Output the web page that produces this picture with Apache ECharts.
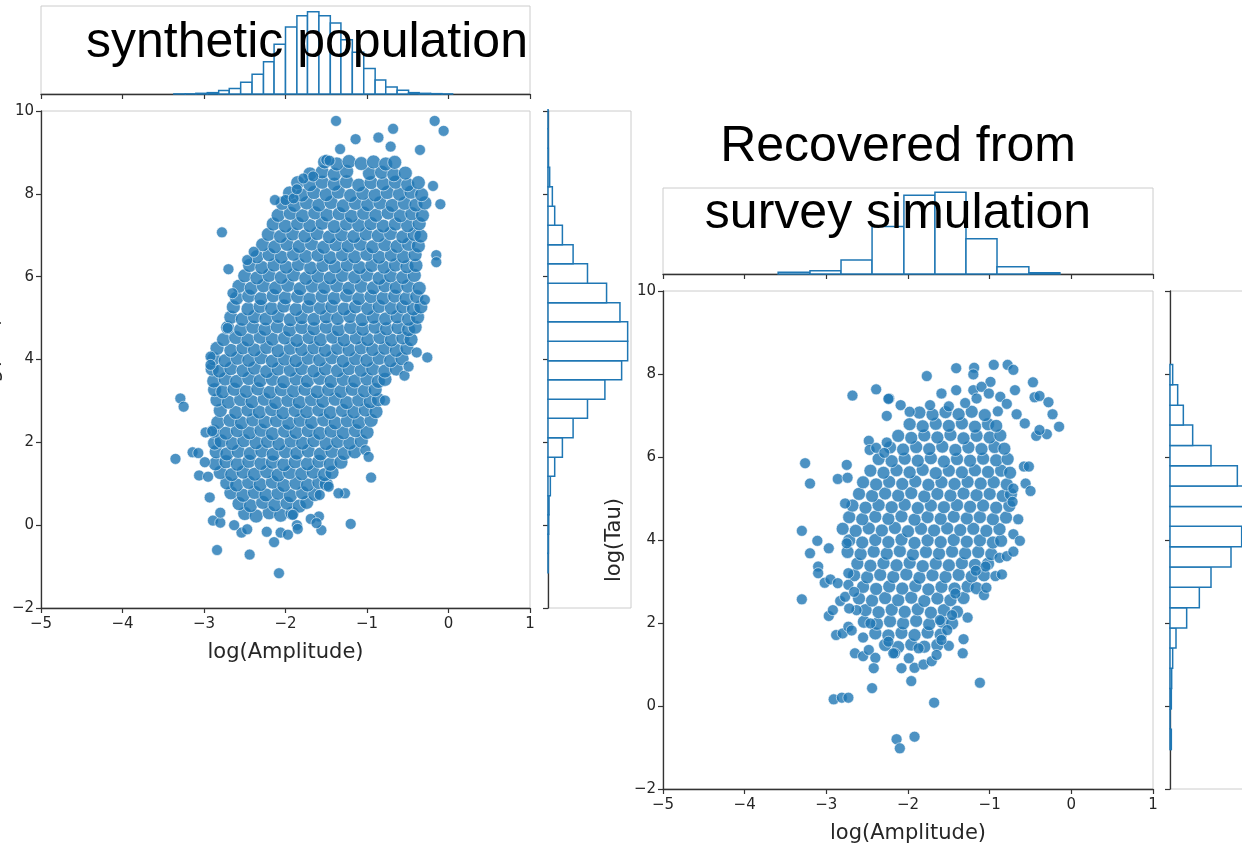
<!DOCTYPE html>
<html>
<head>
<meta charset="utf-8">
<script src="https://cdn.jsdelivr.net/npm/echarts@6/dist/echarts.min.js"></script>
<style>
html, body { margin: 0; padding: 0; background: #fff; }
#main { width: 1242px; height: 843px; }
</style>
</head>
<body>
<div id="main"></div>
<script>
// synthetic population: scattered points round the edge of the cloud
const popFringe = [
  [-2.78,7.07],[-2.70,6.18],[-2.47,6.40],[-2.39,6.60],[-2.65,5.60],[-2.13,7.85],[-2.00,7.85],[-1.90,7.89],[-1.86,8.11],
  [-2.92,4.07],[-2.92,3.87],[-2.71,4.76],[-1.78,8.37],[-1.66,8.42],
  [-1.38,9.76],[-0.68,9.57],[-0.17,9.76],[-0.06,9.52],[-1.14,9.32],[-0.86,9.36],[-1.33,9.08],[-0.71,9.14],[-0.35,9.06],
  [-1.50,8.82],[-1.46,8.80],[-0.19,8.19],[-0.10,7.75],[-0.15,6.52],[-0.15,6.35],[-0.39,4.17],[-0.26,4.05],[-0.29,5.44],
  [-3.29,3.06],[-3.25,2.86],[-3.35,1.60],[-3.14,1.76],[-3.07,1.74],[-2.98,2.24],[-2.90,2.27],[-2.99,1.52],[-3.06,1.20],
  [-2.95,1.17],[-2.93,0.67],[-2.89,0.11],[-2.80,0.06],[-2.84,-0.60],[-2.44,-0.71],[-2.08,-1.16],[-2.14,-0.41],[-2.54,-0.18],
  [-2.63,0.00],[-2.47,-0.10],[-2.23,-0.16],[-2.06,-0.18],[-1.97,-0.23],[-1.86,0.00],[-2.80,0.30],
  [-0.54,3.61],[-0.49,3.83],[-0.78,3.01],[-0.95,1.15],[-1.02,1.81],[-0.98,1.65],[-1.20,0.03],[-1.27,0.77],[-1.35,0.77],
  [-1.47,0.93],[-1.58,0.73],[-1.56,-0.12],[-1.59,0.21],[-1.69,0.15],[-1.62,0.05],[-1.91,0.25],[-1.85,-0.09]
];
// synthetic population: the dense body of the cloud, read row by row
const popCore = [
  [-2.5,0.28],[-2.36,0.22],[-2.2,0.3],[-2.06,0.24],[-1.92,0.29],
  [-2.57,0.52],[-2.43,0.47],[-2.28,0.55],[-2.13,0.49],[-1.98,0.53],[-1.83,0.46],[-1.74,0.55],
  [-2.67,0.78],[-2.52,0.72],[-2.38,0.79],[-2.24,0.73],[-2.09,0.77],[-1.94,0.71],[-1.79,0.78],[-1.64,0.74],
  [-2.72,1.02],[-2.6,0.97],[-2.45,1.03],[-2.31,0.98],[-2.16,1.04],[-2.02,0.96],[-1.87,1.01],[-1.73,0.97],[-1.59,1.03],[-1.5,0.99],
  [-2.8,1.27],[-2.66,1.22],[-2.52,1.28],[-2.38,1.23],[-2.23,1.29],[-2.09,1.21],[-1.95,1.27],[-1.8,1.24],[-1.66,1.28],[-1.52,1.22],[-1.43,1.27],
  [-2.86,1.48],[-2.73,1.53],[-2.59,1.47],[-2.45,1.54],[-2.3,1.49],[-2.16,1.52],[-2.02,1.46],[-1.88,1.53],[-1.73,1.48],[-1.59,1.54],[-1.45,1.47],[-1.32,1.52],
  [-2.85,1.77],[-2.72,1.72],[-2.58,1.78],[-2.43,1.73],[-2.29,1.79],[-2.15,1.71],[-2.0,1.77],[-1.86,1.74],[-1.72,1.79],[-1.57,1.72],[-1.43,1.78],[-1.28,1.73],[-1.15,1.77],
  [-2.87,1.98],[-2.79,2.03],[-2.65,1.97],[-2.51,2.04],[-2.36,1.99],[-2.22,2.02],[-2.08,1.96],[-1.93,2.03],[-1.79,1.98],[-1.65,2.04],[-1.5,1.97],[-1.36,2.02],[-1.21,1.98],[-1.07,2.03],
  [-2.88,2.27],[-2.73,2.22],[-2.59,2.28],[-2.44,2.23],[-2.3,2.29],[-2.16,2.21],[-2.01,2.27],[-1.87,2.24],[-1.72,2.28],[-1.58,2.22],[-1.44,2.27],[-1.29,2.23],[-1.14,2.28],[-1.0,2.24],
  [-2.83,2.48],[-2.68,2.53],[-2.54,2.47],[-2.4,2.54],[-2.25,2.49],[-2.11,2.52],[-1.96,2.46],[-1.82,2.53],[-1.68,2.48],[-1.53,2.54],[-1.39,2.47],[-1.24,2.52],[-1.1,2.48],[-0.95,2.53],
  [-2.8,2.77],[-2.61,2.72],[-2.46,2.78],[-2.32,2.73],[-2.17,2.79],[-2.03,2.71],[-1.88,2.77],[-1.74,2.74],[-1.59,2.78],[-1.45,2.72],[-1.3,2.77],[-1.16,2.73],[-1.02,2.78],[-0.89,2.74],
  [-2.84,3.02],[-2.7,2.97],[-2.55,3.03],[-2.41,2.98],[-2.26,3.04],[-2.12,2.96],[-1.97,3.01],[-1.83,2.97],[-1.68,3.03],[-1.54,2.99],[-1.39,3.04],[-1.25,2.96],[-1.1,3.02],[-0.96,2.98],[-0.86,3.03],
  [-2.87,3.27],[-2.77,3.22],[-2.63,3.28],[-2.48,3.23],[-2.34,3.29],[-2.19,3.21],[-2.05,3.27],[-1.9,3.24],[-1.76,3.28],[-1.61,3.22],[-1.47,3.27],[-1.32,3.23],[-1.18,3.28],[-1.03,3.24],[-0.9,3.27],
  [-2.88,3.48],[-2.74,3.53],[-2.6,3.47],[-2.45,3.54],[-2.31,3.49],[-2.16,3.52],[-2.02,3.46],[-1.87,3.53],[-1.73,3.48],[-1.58,3.54],[-1.44,3.47],[-1.29,3.52],[-1.15,3.48],[-1.0,3.53],[-0.86,3.47],[-0.78,3.52],
  [-2.9,3.77],[-2.81,3.72],[-2.67,3.78],[-2.52,3.73],[-2.38,3.79],[-2.23,3.71],[-2.09,3.77],[-1.94,3.74],[-1.8,3.78],[-1.65,3.72],[-1.51,3.77],[-1.36,3.73],[-1.22,3.78],[-1.07,3.74],[-0.93,3.77],[-0.78,3.72],[-0.64,3.77],
  [-2.88,4.02],[-2.74,3.97],[-2.59,4.03],[-2.45,3.98],[-2.3,4.04],[-2.16,3.96],[-2.01,4.01],[-1.87,3.97],[-1.72,4.03],[-1.58,3.99],[-1.43,4.04],[-1.29,3.96],[-1.14,4.02],[-1.0,3.98],[-0.85,4.03],[-0.71,3.97],[-0.57,4.02],
  [-2.84,4.27],[-2.67,4.22],[-2.52,4.28],[-2.38,4.23],[-2.23,4.29],[-2.09,4.21],[-1.94,4.27],[-1.8,4.24],[-1.65,4.28],[-1.51,4.22],[-1.36,4.27],[-1.22,4.23],[-1.07,4.28],[-0.93,4.24],[-0.78,4.27],[-0.64,4.22],[-0.51,4.27],
  [-2.76,4.48],[-2.61,4.53],[-2.46,4.47],[-2.31,4.54],[-2.16,4.49],[-2.01,4.52],[-1.86,4.46],[-1.71,4.53],[-1.57,4.48],[-1.42,4.54],[-1.28,4.47],[-1.13,4.52],[-0.99,4.48],[-0.84,4.53],[-0.7,4.47],[-0.56,4.52],[-0.46,4.48],
  [-2.71,4.77],[-2.55,4.72],[-2.4,4.78],[-2.25,4.73],[-2.1,4.79],[-1.95,4.71],[-1.8,4.77],[-1.65,4.74],[-1.5,4.78],[-1.35,4.72],[-1.2,4.77],[-1.05,4.73],[-0.9,4.78],[-0.76,4.74],[-0.62,4.77],[-0.49,4.72],[-0.41,4.78],
  [-2.67,5.02],[-2.53,4.97],[-2.38,5.03],[-2.24,4.98],[-2.09,5.04],[-1.94,4.96],[-1.8,5.01],[-1.65,4.97],[-1.5,5.03],[-1.36,4.99],[-1.21,5.04],[-1.06,4.96],[-0.92,5.02],[-0.77,4.98],[-0.63,5.03],[-0.49,4.97],[-0.38,5.02],
  [-2.64,5.27],[-2.46,5.22],[-2.31,5.28],[-2.17,5.23],[-2.02,5.29],[-1.87,5.21],[-1.72,5.27],[-1.57,5.24],[-1.43,5.28],[-1.28,5.22],[-1.14,5.27],[-0.99,5.23],[-0.85,5.28],[-0.7,5.24],[-0.56,5.27],[-0.43,5.22],[-0.34,5.27],
  [-2.6,5.48],[-2.45,5.53],[-2.3,5.47],[-2.15,5.54],[-2.0,5.49],[-1.85,5.52],[-1.7,5.46],[-1.55,5.53],[-1.4,5.48],[-1.25,5.54],[-1.1,5.47],[-0.95,5.52],[-0.8,5.48],[-0.66,5.53],[-0.52,5.47],[-0.39,5.52],
  [-2.57,5.77],[-2.42,5.72],[-2.27,5.78],[-2.12,5.73],[-1.97,5.79],[-1.82,5.71],[-1.67,5.77],[-1.52,5.74],[-1.37,5.78],[-1.22,5.72],[-1.07,5.77],[-0.92,5.73],[-0.78,5.78],[-0.64,5.74],[-0.5,5.77],[-0.36,5.72],
  [-2.5,6.02],[-2.35,5.97],[-2.2,6.03],[-2.05,5.98],[-1.9,6.04],[-1.75,5.96],[-1.6,6.01],[-1.45,5.97],[-1.3,6.03],[-1.15,5.99],[-1.0,6.04],[-0.85,5.96],[-0.71,6.02],[-0.56,5.98],[-0.42,6.03],
  [-2.44,6.27],[-2.29,6.22],[-2.14,6.28],[-1.99,6.23],[-1.84,6.29],[-1.69,6.21],[-1.54,6.27],[-1.39,6.24],[-1.24,6.28],[-1.09,6.22],[-0.94,6.27],[-0.79,6.23],[-0.65,6.28],[-0.51,6.24],[-0.4,6.27],
  [-2.35,6.48],[-2.2,6.53],[-2.05,6.47],[-1.9,6.54],[-1.75,6.49],[-1.6,6.52],[-1.45,6.46],[-1.3,6.53],[-1.15,6.48],[-1.0,6.54],[-0.85,6.47],[-0.7,6.52],[-0.55,6.48],[-0.41,6.53],
  [-2.28,6.77],[-2.13,6.72],[-1.98,6.78],[-1.83,6.73],[-1.68,6.79],[-1.53,6.71],[-1.38,6.77],[-1.23,6.74],[-1.08,6.78],[-0.93,6.72],[-0.78,6.77],[-0.63,6.73],[-0.49,6.78],[-0.37,6.74],
  [-2.21,7.02],[-2.06,6.97],[-1.91,7.03],[-1.76,6.98],[-1.61,7.04],[-1.46,6.96],[-1.31,7.01],[-1.16,6.97],[-1.01,7.03],[-0.86,6.99],[-0.71,7.04],[-0.56,6.96],[-0.42,7.02],[-0.34,6.98],
  [-2.15,7.27],[-2.0,7.22],[-1.85,7.28],[-1.7,7.23],[-1.55,7.29],[-1.4,7.21],[-1.25,7.27],[-1.1,7.24],[-0.95,7.28],[-0.8,7.22],[-0.65,7.27],[-0.5,7.23],[-0.36,7.28],
  [-2.09,7.48],[-1.94,7.53],[-1.79,7.47],[-1.64,7.54],[-1.49,7.49],[-1.34,7.52],[-1.19,7.46],[-1.04,7.53],[-0.89,7.48],[-0.74,7.54],[-0.59,7.47],[-0.45,7.52],[-0.32,7.48],
  [-2.04,7.77],[-1.89,7.72],[-1.74,7.78],[-1.59,7.73],[-1.44,7.79],[-1.29,7.71],[-1.14,7.77],[-0.99,7.74],[-0.84,7.78],[-0.69,7.72],[-0.54,7.77],[-0.4,7.73],[-0.29,7.78],
  [-1.95,8.02],[-1.8,7.97],[-1.65,8.03],[-1.5,7.98],[-1.35,8.04],[-1.2,7.96],[-1.05,8.01],[-0.9,7.97],[-0.75,8.03],[-0.6,7.99],[-0.46,8.04],[-0.33,7.98],
  [-1.85,8.27],[-1.7,8.22],[-1.55,8.28],[-1.4,8.23],[-1.25,8.29],[-1.1,8.21],[-0.95,8.27],[-0.8,8.24],[-0.65,8.28],[-0.5,8.22],[-0.37,8.27],
  [-1.7,8.48],[-1.55,8.53],[-1.4,8.47],[-1.25,8.54],[-0.97,8.49],[-0.82,8.52],[-0.67,8.46],[-0.53,8.5],
  [-1.52,8.77],[-1.37,8.72],[-1.22,8.78],[-1.07,8.73],[-0.92,8.77],[-0.77,8.72],[-0.66,8.76]
];
// synthetic population: marginal histograms (bin edges and heights)
const popAmpEdges = [-3.37,-3.23,-3.10,-2.96,-2.82,-2.69,-2.55,-2.41,-2.27,-2.14,-2.00,-1.86,-1.73,-1.59,-1.45,-1.32,-1.18,-1.04,-0.90,-0.77,-0.63,-0.49,-0.36,-0.22,-0.08,0.05];
const popAmpCounts = [0.3,0.5,2,4,10,16,35,58,95,147,198,231,243,231,210,160,123,75,41,21,11,4,2,1,0.3];
const popTauEdges = [-1.15,-0.68,-0.22,0.25,0.71,1.18,1.64,2.11,2.58,3.04,3.51,3.97,4.44,4.91,5.37,5.84,6.31,6.77,7.24,7.70,8.17,8.64,9.10,9.57,10.03];
const popTauCounts = [0.5,1,2,3,7,20,43,75,118,170,220,238,238,215,175,118,75,43,20,13,5,1,0.5,0.3];

// recovered from survey simulation: sparse points
const recFringe = [
  [-2.68,7.48],[-2.39,7.63],[-2.23,7.41],[-2.26,6.99],[-3.26,5.85],[-3.20,5.36],[-2.75,5.81],[-2.86,5.47],[-2.74,5.50],
  [-2.48,6.39],[-2.47,6.17],[-2.39,6.22],[-2.29,6.10],[-2.26,6.35],[-3.30,4.22],[-3.11,3.98],[-2.97,3.80],[-3.20,3.68],
  [-2.75,3.92],[-2.77,4.88],
  [-1.77,7.95],[-1.41,8.14],[-1.19,8.15],[-1.20,7.99],[-0.95,8.22],[-0.78,8.22],[-0.71,8.10],[-0.47,7.80],[-0.69,7.61],
  [-0.45,7.44],[-0.39,7.47],[-0.28,7.32],[-0.23,7.03],[-0.15,6.73],[-0.30,6.55],[-0.43,6.51],[-0.39,6.65],[-0.57,6.81],
  [-0.67,7.03],[-2.24,7.40],[-2.09,7.25],[-1.41,7.61],[-1.59,7.53],[-1.73,7.25],[-1.98,7.09],[-1.20,7.61],[-0.99,7.81],
  [-1.10,7.69],[-1.01,7.53],[-0.87,7.45],[-0.79,7.28],[-1.16,7.41],[-0.58,5.77],[-0.52,5.77],[-0.56,5.36],[-0.50,5.18],
  [-0.65,4.50],[-0.71,5.24],[-0.72,4.92],[-0.71,4.14],[-0.63,3.98],[-1.50,7.22],[-1.30,7.30],[-0.90,7.10],
  [-3.30,2.57],[-3.10,3.36],[-3.10,3.20],[-3.02,2.97],[-2.95,3.05],[-2.86,2.96],[-2.97,2.17],[-2.92,2.31],[-2.88,1.71],
  [-2.80,1.75],[-2.73,1.91],[-2.69,1.82],[-2.65,1.27],[-2.55,1.20],[-2.48,1.35],[-2.40,1.16],[-2.42,0.91],[-2.44,0.43],
  [-2.91,0.16],[-2.81,0.20],[-2.73,0.20],[-2.55,1.65],[-2.63,2.31],[-2.72,2.35],[-2.83,2.53],[-2.77,2.63],[-2.73,2.92],
  [-2.66,2.75],[-2.73,3.20],[-2.14,-0.80],[-2.10,-1.02],[-2.46,1.99],[-2.24,1.55],[-2.16,1.27],
  [-1.92,-0.74],[-1.68,0.08],[-1.12,0.56],[-1.96,0.60],[-2.08,0.91],[-1.92,0.92],[-1.81,1.00],[-1.71,1.08],[-1.65,1.23],
  [-1.50,1.45],[-1.33,1.27],[-1.32,1.61],[-1.59,1.59],[-2.18,1.27],[-1.99,1.15],[-1.87,1.39],[-1.27,2.13],[-1.07,2.67],
  [-1.04,2.85],[-0.93,3.13],[-0.85,3.17],[-0.88,3.57],[-0.79,3.61],[-0.71,3.72],[-1.05,3.36],[-1.17,3.26],[-1.42,2.71],
  [-1.46,2.19],[-1.61,2.07],[-1.52,1.83]
];
// recovered: the dense body
const recCore = [
  [-2.28,1.47],[-2.12,1.42],[-1.96,1.48],[-1.8,1.43],[-1.64,1.47],
  [-2.4,1.75],[-2.24,1.7],[-2.08,1.76],[-1.92,1.71],[-1.76,1.77],[-1.6,1.72],
  [-2.54,2.03],[-2.38,1.98],[-2.22,2.04],[-2.06,1.99],[-1.9,2.05],[-1.74,1.97],[-1.58,2.03],[-1.46,1.99],
  [-2.52,2.31],[-2.36,2.26],[-2.2,2.32],[-2.04,2.27],[-1.88,2.33],[-1.72,2.25],[-1.56,2.31],[-1.4,2.27],
  [-2.6,2.59],[-2.44,2.54],[-2.28,2.6],[-2.12,2.55],[-1.96,2.61],[-1.8,2.53],[-1.64,2.59],[-1.48,2.55],[-1.32,2.6],
  [-2.55,2.87],[-2.39,2.82],[-2.23,2.88],[-2.07,2.83],[-1.91,2.89],[-1.75,2.81],[-1.59,2.87],[-1.43,2.83],[-1.27,2.88],[-1.16,2.84],
  [-2.66,3.15],[-2.5,3.1],[-2.34,3.16],[-2.18,3.11],[-2.02,3.17],[-1.86,3.09],[-1.7,3.15],[-1.54,3.11],[-1.38,3.16],[-1.22,3.12],[-1.07,3.15],
  [-2.62,3.43],[-2.46,3.38],[-2.3,3.44],[-2.14,3.39],[-1.98,3.45],[-1.82,3.37],[-1.66,3.43],[-1.5,3.39],[-1.34,3.44],[-1.18,3.4],[-1.02,3.43],
  [-2.74,3.71],[-2.58,3.66],[-2.42,3.72],[-2.26,3.67],[-2.1,3.73],[-1.94,3.65],[-1.78,3.71],[-1.62,3.67],[-1.46,3.72],[-1.3,3.68],[-1.14,3.71],[-0.98,3.66],
  [-2.72,3.99],[-2.56,3.94],[-2.4,4.0],[-2.24,3.95],[-2.08,4.01],[-1.92,3.93],[-1.76,3.99],[-1.6,3.95],[-1.44,4.0],[-1.28,3.96],[-1.12,3.99],[-0.96,3.94],[-0.86,3.98],
  [-2.8,4.27],[-2.64,4.22],[-2.48,4.28],[-2.32,4.23],[-2.16,4.29],[-2.0,4.21],[-1.84,4.27],[-1.68,4.23],[-1.52,4.28],[-1.36,4.24],[-1.2,4.27],[-1.04,4.22],[-0.88,4.26],
  [-2.72,4.55],[-2.56,4.5],[-2.4,4.56],[-2.24,4.51],[-2.08,4.57],[-1.92,4.49],[-1.76,4.55],[-1.6,4.51],[-1.44,4.56],[-1.28,4.52],[-1.12,4.55],[-0.96,4.5],[-0.8,4.54],
  [-2.68,4.83],[-2.52,4.78],[-2.36,4.84],[-2.2,4.79],[-2.04,4.85],[-1.88,4.77],[-1.72,4.83],[-1.56,4.79],[-1.4,4.84],[-1.24,4.8],[-1.08,4.83],[-0.92,4.78],[-0.76,4.82],
  [-2.6,5.11],[-2.44,5.06],[-2.28,5.12],[-2.12,5.07],[-1.96,5.13],[-1.8,5.05],[-1.64,5.11],[-1.48,5.07],[-1.32,5.12],[-1.16,5.08],[-1.0,5.11],[-0.84,5.06],[-0.74,5.1],
  [-2.55,5.39],[-2.39,5.34],[-2.23,5.4],[-2.07,5.35],[-1.91,5.41],[-1.75,5.33],[-1.59,5.39],[-1.43,5.35],[-1.27,5.4],[-1.11,5.36],[-0.95,5.39],[-0.79,5.34],
  [-2.46,5.67],[-2.3,5.62],[-2.14,5.68],[-1.98,5.63],[-1.82,5.69],[-1.66,5.61],[-1.5,5.67],[-1.34,5.63],[-1.18,5.68],[-1.02,5.64],[-0.86,5.67],[-0.75,5.62],
  [-2.36,5.95],[-2.2,5.9],[-2.04,5.96],[-1.88,5.91],[-1.72,5.97],[-1.56,5.89],[-1.4,5.95],[-1.24,5.91],[-1.08,5.96],[-0.92,5.92],[-0.78,5.95],
  [-2.22,6.23],[-2.06,6.18],[-1.9,6.24],[-1.74,6.19],[-1.58,6.25],[-1.42,6.17],[-1.26,6.23],[-1.1,6.19],[-0.94,6.24],[-0.82,6.2],
  [-2.12,6.51],[-1.96,6.46],[-1.8,6.52],[-1.64,6.47],[-1.48,6.53],[-1.32,6.45],[-1.16,6.51],[-1.0,6.47],[-0.87,6.52],
  [-1.98,6.79],[-1.82,6.74],[-1.66,6.8],[-1.5,6.75],[-1.34,6.81],[-1.18,6.73],[-1.02,6.79],[-0.92,6.75],
  [-1.86,7.07],[-1.7,7.02],[-1.54,7.08],[-1.38,7.03],[-1.22,7.09],[-1.06,7.01]
];
// recovered: marginal histograms
const recAmpEdges = [-3.59,-3.20,-2.82,-2.44,-2.05,-1.67,-1.29,-0.91,-0.52,-0.14];
const recAmpCounts = [5,10,42,142,235,244,105,22,4];
const recTauEdges = [-1.05,-0.56,-0.07,0.42,0.91,1.40,1.88,2.37,2.86,3.35,3.84,4.33,4.81,5.30,5.79,6.28,6.77,7.25,7.74,8.23];
const recTauCounts = [4,0,4,5,8,18,50,88,123,183,215,245,250,202,123,68,40,23,8];

const BLUE = '#1f77b4';
const INK = '#333333';
const TXT = '#262626';
const minus = v => String(v).replace('-', '\u2212');

function bins(edges, counts) {
    return counts.map((c, i) => [edges[i], edges[i + 1], c]);
}

function barsUp(params, api) {
    const a = api.coord([api.value(0), 0]);
    const b = api.coord([api.value(1), api.value(2)]);
    return {
        type: 'rect',
        shape: { x: a[0], y: b[1], width: b[0] - a[0], height: a[1] - b[1] },
        style: { fill: '#fff', stroke: BLUE, lineWidth: 1.5 }
    };
}

function barsSide(params, api) {
    const a = api.coord([0, api.value(0)]);
    const b = api.coord([api.value(2), api.value(1)]);
    return {
        type: 'rect',
        shape: { x: a[0], y: b[1], width: b[0] - a[0], height: a[1] - b[1] },
        style: { fill: '#fff', stroke: BLUE, lineWidth: 1.5 }
    };
}

const lineStyle = { onZero: false, lineStyle: { color: INK, width: 1.3 } };
const tickStyle = { length: 5, lineStyle: { color: INK, width: 1.2 } };
const labelStyle = { formatter: minus, fontFamily: 'DejaVu Sans', fontSize: 15, color: TXT };
const nameStyle = { fontFamily: 'DejaVu Sans', fontSize: 21, color: TXT };

function ampAxis(grid, withLabels) {
    return {
        gridIndex: grid, type: 'value', min: -5, max: 1, interval: 1,
        name: withLabels ? 'log(Amplitude)' : '', nameLocation: 'middle', nameGap: 34, nameTextStyle: nameStyle,
        axisLine: lineStyle, axisTick: tickStyle,
        axisLabel: Object.assign({ show: withLabels, margin: 9 }, labelStyle),
        splitLine: { show: false }
    };
}
function tauAxis(grid, withLabels) {
    return {
        gridIndex: grid, type: 'value', min: -2, max: 10, interval: 2,
        name: withLabels ? 'log(Tau)' : '', nameLocation: 'middle', nameGap: 38, nameRotate: 90, nameTextStyle: nameStyle,
        axisLine: lineStyle, axisTick: tickStyle,
        axisLabel: Object.assign({ show: withLabels, margin: 7 }, labelStyle),
        splitLine: { show: false }
    };
}
function countAxis(grid, max) {
    return { gridIndex: grid, type: 'value', min: 0, max: max, show: false, splitLine: { show: false } };
}

const box = { show: true, borderColor: '#cccccc', borderWidth: 1, backgroundColor: 'transparent', containLabel: false, outerBoundsMode: 'none' };

const dot = { color: BLUE, borderColor: '#ffffff', borderWidth: 0.7 };

function dots(x, y, data, size) {
    return { type: 'scatter', xAxisIndex: x, yAxisIndex: y, silent: true, symbolSize: size, itemStyle: dot, data: data };
}
function histUp(x, y, data) {
    return { type: 'custom', xAxisIndex: x, yAxisIndex: y, silent: true, renderItem: barsUp, encode: { x: [0, 1], y: 2 }, data: data };
}
function histSide(x, y, data) {
    return { type: 'custom', xAxisIndex: x, yAxisIndex: y, silent: true, renderItem: barsSide, encode: { x: 2, y: [0, 1] }, data: data };
}
function title(text, x, y) {
    return {
        type: 'text', x: x, y: y, z: 100,
        style: { text: text, fill: '#000', font: '50px "Liberation Sans", Arial, sans-serif', align: 'center', verticalAlign: 'middle' }
    };
}

const chart = echarts.init(document.getElementById('main'));
chart.setOption({
    animation: false,
    backgroundColor: '#fff',
    grid: [
        Object.assign({ left: 41, top: 111, width: 489, height: 497 }, box),
        Object.assign({ left: 41, top: 6, width: 489, height: 88 }, box),
        Object.assign({ left: 548, top: 111, width: 83, height: 497 }, box),
        Object.assign({ left: 663, top: 291, width: 490, height: 498 }, box),
        Object.assign({ left: 663, top: 188, width: 490, height: 86 }, box),
        Object.assign({ left: 1170, top: 291, width: 83, height: 498 }, box)
    ],
    xAxis: [
        ampAxis(0, true),
        ampAxis(1, false),
        countAxis(2, 248),
        ampAxis(3, true),
        ampAxis(4, false),
        countAxis(5, 249)
    ],
    yAxis: [
        tauAxis(0, true),
        countAxis(1, 260),
        tauAxis(2, false),
        tauAxis(3, true),
        countAxis(4, 257),
        tauAxis(5, false)
    ],
    series: [
        dots(0, 0, popCore, 14),
        dots(0, 0, popFringe, 11),
        histUp(1, 1, bins(popAmpEdges, popAmpCounts)),
        histSide(2, 2, bins(popTauEdges, popTauCounts)),
        dots(3, 3, recCore, 13),
        dots(3, 3, recFringe, 11),
        histUp(4, 4, bins(recAmpEdges, recAmpCounts)),
        histSide(5, 5, bins(recTauEdges, recTauCounts))
    ],
    graphic: [
        title('synthetic population', 307, 43),
        title('Recovered from', 898, 147),
        title('survey simulation', 898, 214)
    ]
});
</script>
</body>
</html>
